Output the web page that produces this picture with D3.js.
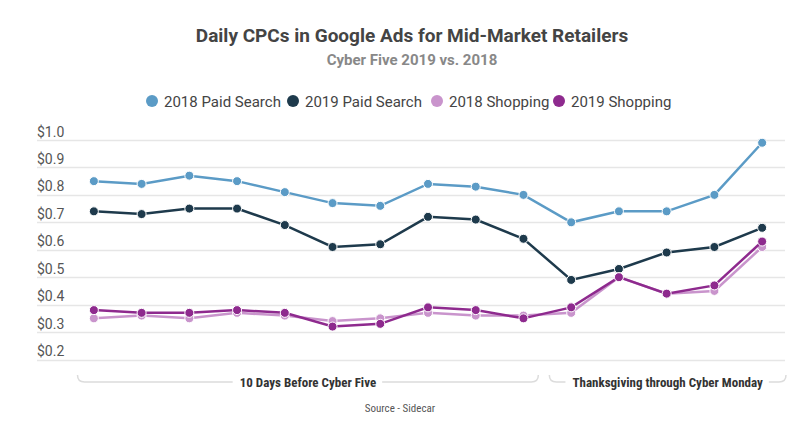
<!DOCTYPE html>
<html><head><meta charset="utf-8">
<script src="https://cdn.jsdelivr.net/npm/d3@7/dist/d3.min.js"></script>
<style>body{margin:0;background:#fff;font-family:Roboto,"Noto Sans",sans-serif}</style>
</head><body><svg id="c" width="800" height="444"></svg>
<script>
const days = ["Nov 18","Nov 19","Nov 20","Nov 21","Nov 22","Nov 23","Nov 24","Nov 25","Nov 26","Nov 27","Nov 28","Nov 29","Nov 30","Dec 1","Dec 2"];
const paid2018 = [0.85,0.84,0.87,0.85,0.81,0.77,0.76,0.84,0.83,0.80,0.70,0.74,0.74,0.80,0.99];
const paid2019 = [0.74,0.73,0.75,0.75,0.69,0.61,0.62,0.72,0.71,0.64,0.49,0.53,0.59,0.61,0.68];
const shop2018 = [0.35,0.36,0.35,0.37,0.36,0.34,0.35,0.37,0.36,0.36,0.37,0.50,0.44,0.45,0.61];
const shop2019 = [0.38,0.37,0.37,0.38,0.37,0.32,0.33,0.39,0.38,0.35,0.39,0.50,0.44,0.47,0.63];
const seriesNames = ["2018 Paid Search","2019 Paid Search","2018 Shopping","2019 Shopping"];
const seriesColors = ["#5b9bc6","#1e3a4c","#c994cc","#8e2a8e"];
const yTicks = [0.2,0.3,0.4,0.5,0.6,0.7,0.8,0.9,1.0];
const groups = [{label:"10 Days Before Cyber Five", from:0, to:9},{label:"Thanksgiving through Cyber Monday", from:10, to:14}];
const title = "Daily CPCs in Google Ads for Mid-Market Retailers";
const subtitle = "Cyber Five 2019 vs. 2018";
const source = "Source - Sidecar";

const series = [paid2018, paid2019, shop2018, shop2019];
const svg = d3.select("#c");
const x = d3.scalePoint().domain(days).range([70, 786]).padding(0.5);
const y = d3.scaleLinear().domain([0.2, 1.0]).range([359.5, 140]);

svg.append("text").attr("x",412).attr("y",42).attr("text-anchor","middle")
  .attr("font-size",19).attr("font-weight",700).attr("fill","#444").text(title);
svg.append("text").attr("x",412).attr("y",65).attr("text-anchor","middle")
  .attr("font-size",15).attr("font-weight",700).attr("fill","#888").text(subtitle);

// legend
const legX = [152, 293, 437, 559];
const lg = svg.append("g");
seriesNames.forEach((n,i)=>{
  const g = lg.append("g").attr("transform",`translate(${legX[i]},101)`);
  g.append("circle").attr("r",6).attr("fill",seriesColors[i]);
  g.append("text").attr("x",12).attr("y",5.5).attr("font-size",15).attr("fill","#444").text(n);
});

// grid + y labels
const ax = svg.append("g");
yTicks.forEach(t=>{
  ax.append("line").attr("x1",37).attr("x2",785).attr("y1",Math.round(y(t))+0.5).attr("y2",Math.round(y(t))+0.5)
    .attr("stroke","#e6e6e6").attr("stroke-width",1.5);
  ax.append("text").attr("x",37).attr("y",y(t)-3.5).attr("font-size",14).attr("fill","#555")
    .text("$"+d3.format(".1f")(t));
});

// lines
const line = d3.line().x((d,i)=>x(days[i])).y(d=>y(d));
series.forEach((s,k)=>{
  const g = svg.append("g");
  g.append("path").datum(s).attr("d",line).attr("fill","none").attr("stroke",seriesColors[k]).attr("stroke-width",2.5);
  g.selectAll("circle").data(s).join("circle").attr("cx",(d,i)=>x(days[i])).attr("cy",d=>y(d))
    .attr("r",4.5).attr("fill",seriesColors[k]).attr("stroke","#fff").attr("stroke-width",1);
});

// group brackets
const step = x.step();
const by = 382;
groups.forEach((gr,gi)=>{
  const x0 = x(days[gr.from]) - step/2 + (gi===0?7.5:2);
  const x1 = x(days[gr.to]) + step/2 - (gi===0?9:0);
  const cx = (x0+x1)/2;
  const t = svg.append("text").attr("x",cx).attr("y",by+4.5).attr("text-anchor","middle")
    .attr("font-size",13).attr("font-weight",700).attr("fill","#333")
    .attr("font-family","'Roboto Condensed','Liberation Sans Narrow',Roboto,sans-serif").text(gr.label);
  const w = t.node().getComputedTextLength();
  const r = 7;
  svg.append("path").attr("fill","none").attr("stroke","#dcdcdc").attr("stroke-width",1.5)
    .attr("d",`M${x0},${by-r} Q${x0},${by} ${x0+r},${by} L${cx-w/2-7},${by} M${cx+w/2+6},${by} L${x1-r},${by} Q${x1},${by} ${x1},${by-r}`);
});

svg.append("text").attr("x",400).attr("y",412).attr("text-anchor","middle")
  .attr("font-size",11).attr("fill","#555")
  .attr("font-family","'Roboto Condensed','Liberation Sans Narrow',Roboto,sans-serif").text(source);
</script></body></html>
